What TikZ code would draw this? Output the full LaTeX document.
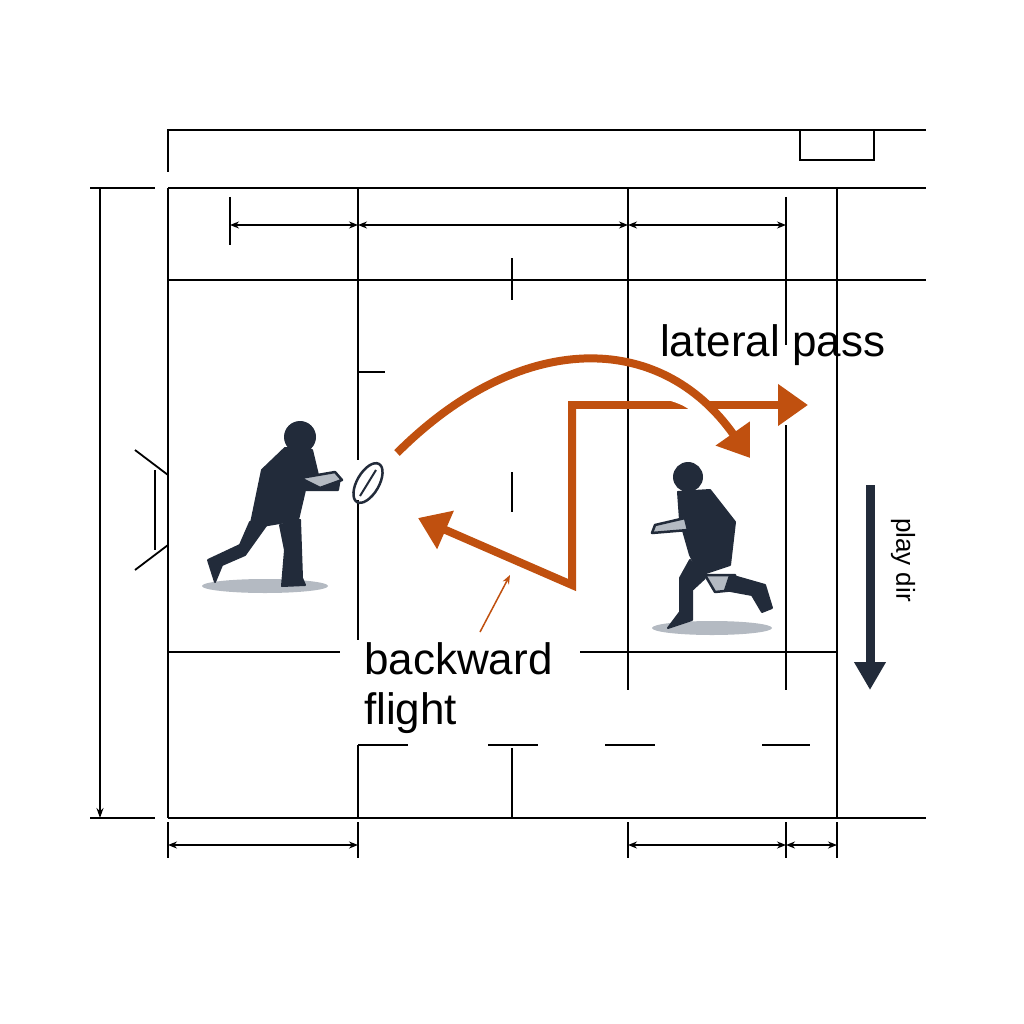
\documentclass[tikz,border=0pt]{standalone}
\usepackage{fontspec}
\setmainfont{Liberation Sans}
\usetikzlibrary{arrows.meta}
\definecolor{pass}{HTML}{C0500F}
\definecolor{navy}{HTML}{222B3A}
\definecolor{greyish}{HTML}{B4BAC2}
\tikzset{
  line/.style={line width=2.6pt,black},
  thin/.style={line width=1.8pt,black},
  dim/.style={line width=1.4pt,black,{Stealth[length=9pt,width=7pt]}-{Stealth[length=9pt,width=7pt]}},
  route/.style={line width=8pt,pass},
  body/.style={fill=navy,draw=navy,line width=2pt,line join=round},
  limb/.style={fill=greyish,draw=navy,line width=2.5pt,line join=round},
  label/.style={font=\fontsize{44}{50}\selectfont,inner sep=0pt}
}
\begin{document}
\begin{tikzpicture}[x=1pt,y=-1pt]
                \useasboundingbox (0,0) rectangle (1024,1024);
                % outer frame
                \draw[line] (168,172) -- (168,130) -- (926,130);
                \draw[thin] (800,130) rectangle (874,160);
                \draw[line] (168,188) -- (926,188);
                \draw[line] (168,818) -- (926,818);
                \draw[line] (168,188) -- (168,818);
                \draw[line] (837,188) -- (837,818);
                \draw[line] (168,280) -- (926,280);
                \draw[line] (168,652) -- (340,652);
                \draw[line] (580,652) -- (837,652);
                % verticals
                \draw[line] (358,188) -- (358,460);
                \draw[line] (358,500) -- (358,640);
                \draw[line] (358,745) -- (358,818);
                \draw[thin] (628,188) -- (628,690);
                \draw[thin] (786,197) -- (786,345);
                \draw[thin] (786,425) -- (786,690);
                \foreach \a/\b in {258/300,472/512,748/818}
                {
                    \draw[thin] (512,\a) -- (512,\b);
                }
                \draw[thin] (358,372) -- (385,372);
                \draw[thin] (358,745) -- (408,745);
                \foreach \a/\b in {488/538,605/655,762/810}
                {
                    \draw[thin] (\a,745) -- (\b,745);
                }
                % goal
                \draw[thin] (135,450) -- (168,475);
                \draw[thin] (135,570) -- (168,545);
                \draw[thin] (155,470) -- (155,550);
                % dimensions
                \draw[thin] (230,197) -- (230,245);
                \draw[dim] (230,225) -- (358,225);
                \draw[dim] (358,225) -- (628,225);
                \draw[dim] (628,225) -- (786,225);
                \draw[thin] (90,188) -- (155,188);
                \draw[thin] (90,818) -- (155,818);
                \draw[thin,-{Stealth[length=10pt,width=7pt]}] (100,188) -- (100,818);
                \foreach \x in {168,358,628,786,837}
                {
                    \draw[thin] (\x,822) -- (\x,858);
                }
                \draw[dim] (168,845) -- (358,845);
                \draw[dim] (628,845) -- (786,845);
                \draw[dim] (786,845) -- (837,845);
                % shadows
                \fill[greyish] (265,586) ellipse (63 and 7);
                \fill[greyish] (712,628) ellipse (60 and 7);
                % passer
                \draw[body] (300,437) circle (15);
                \draw[body] (285,448) -- (312,450) -- (318,475) -- (340,478) -- (338,490) -- (305,490) -- (298,520) -- (250,528) -- (262,470) -- cycle;
                \draw[limb] (300,478) -- (335,472) -- (342,480) -- (320,488) -- cycle;
                \draw[body] (250,522) -- (270,520) -- (245,555) -- (222,565) -- (215,582) -- (208,560) -- (240,545) -- cycle;
                \draw[body] (280,525) -- (300,520) -- (302,578) -- (305,585) -- (282,586) -- (285,550) -- cycle;
                \draw[navy,line width=2.5pt] (368,483) ellipse [x radius=11,y radius=22,rotate=-30];
                \draw[navy,line width=2pt] (360,496) -- (376,470);
                % receiver
                \draw[body] (688,477) circle (14);
                \draw[body] (678,492) -- (710,490) -- (735,522) -- (730,565) -- (700,575) -- (690,555) -- (680,520) -- cycle;
                \draw[limb] (685,518) -- (655,525) -- (652,533) -- (688,530) -- cycle;
                \draw[limb] (705,575) -- (735,575) -- (735,590) -- (715,592) -- cycle;
                \draw[body] (730,575) -- (765,585) -- (772,608) -- (762,612) -- (752,595) -- (725,590) -- cycle;
                \draw[body] (690,560) -- (705,578) -- (692,590) -- (692,620) -- (668,628) -- (680,612) -- (680,578) -- cycle;
                % routes
                \draw[route,-{Triangle[length=30pt,width=40pt]}] (572,405) -- (572,585) -- (418,518);
                \draw[route,-{Triangle[length=30pt,width=40pt]}] (572,409) -- (572,405) -- (808,405);
                \draw[white,line width=16pt] (655,388) .. controls (690,398) .. (712,420);
                \draw[route,-{Triangle[length=30pt,width=40pt]}] (397,453) .. controls (520,330) and (660,330) .. (750,458);
                % labels
                \node[label,anchor=west] (lat) at (660,345) {lateral pass};
                \node[label,anchor=north west,align=left] (back) at (364,642) {backward\\flight};
                \coordinate (tip) at (510,575);
                \draw[pass,line width=1.5pt,-{Stealth[length=9pt,width=7pt]}] (480,632) -- (tip);
                \node[font=\fontsize{26}{30}\selectfont,rotate=-90] (dir) at (903,560) {play dir};
                \coordinate (dtop) at (870,485);
                \coordinate (dbot) at (870,690);
                \draw[navy,line width=9pt,-{Triangle[length=28pt,width=30pt]}] (dtop) -- (dbot);
            \end{tikzpicture}
\end{document}
